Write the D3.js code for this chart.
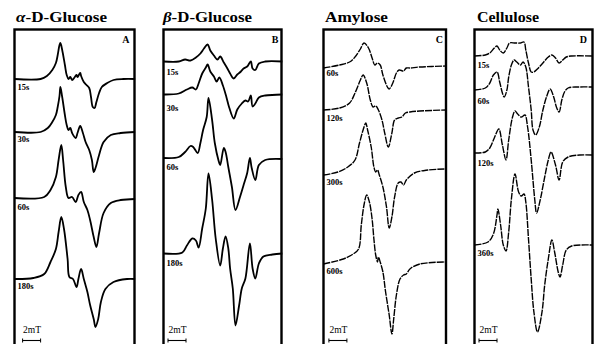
<!DOCTYPE html>
<html><head><meta charset="utf-8">
<script src="https://cdn.jsdelivr.net/npm/d3@7"></script>
<style>body{margin:0;background:#fff}svg{display:block}</style>
</head><body><svg id="c" width="595" height="344"></svg>
<script>
// ---------- DATA ----------
const titles = ["α-D-Glucose", "β-D-Glucose", "Amylose", "Cellulose"];
const panelLetters = ["A", "B", "C", "D"];
const timeLabels = [
  ["15s", "30s", "60s", "180s"],
  ["15s", "30s", "60s", "180s"],
  ["60s", "120s", "300s", "600s"],
  ["15s", "60s", "120s", "360s"]
];
// stacking offsets of each spectrum baseline (a.u.)
const offsets = [
  [266, 213, 147, 66],
  [283.5, 250.5, 187, 91.5],
  [278, 234, 173, 82],
  [289, 257, 191, 101]
];
const scaleBarLabel = "2mT";
const scaleBarMT = 2;

// spectra: [field (mT), first-derivative intensity (a.u.)]
const aGlc15 = [[0,0],[2.9,0],[3.6,3],[4.2,9],[4.6,16],[4.8,24],[5.0,34],[5.1,36],[5.3,29],[5.6,14],[5.8,4],[6.0,0],[6.2,2],[6.4,-1],[6.7,2],[6.9,4],[7.0,2],[7.3,6],[7.4,3],[7.7,-3],[8.0,-6],[8.3,-9],[8.5,-18],[8.7,-28],[8.9,-29],[9.1,-23],[9.4,-14],[9.7,-8],[10.3,-4],[11.0,-1],[12.1,0],[13.4,0]];
const aGlc30 = [[0,0],[2.9,0],[3.7,4],[4.2,10],[4.6,17],[4.8,25],[5.0,36],[5.1,45],[5.3,35],[5.6,17],[5.8,7],[6.0,2],[6.2,4],[6.4,-1],[6.8,-6],[7.0,-1],[7.3,6],[7.6,-1],[7.9,-10],[8.3,-18],[8.6,-28],[8.8,-40],[9.0,-36],[9.4,-23],[9.9,-10],[10.7,-3],[11.8,-1],[13.4,0]];
const aGlc60 = [[0,0],[3.3,1],[4.0,8],[4.6,21],[4.9,38],[5.2,53],[5.4,38],[5.7,11],[6.0,0],[6.4,1],[6.8,-4],[7.1,3],[7.4,6],[7.7,-4],[8.1,-12],[8.4,-22],[8.8,-39],[9.1,-49],[9.4,-35],[9.9,-15],[10.7,-5],[11.8,-2],[13.4,-1]];
const aGlc180 = [[0,0],[2.1,1],[3.3,5],[4.0,17],[4.6,30],[4.9,47],[5.2,62],[5.5,50],[5.9,20],[6.1,2],[6.5,0],[6.9,-8],[7.1,0],[7.4,10],[7.7,0],[8.1,-13],[8.4,-26],[8.8,-40],[9.0,-48],[9.3,-40],[9.6,-23],[10.1,-10],[11.0,-3],[12.5,0],[13.4,0]];

const bGlc15 = [[0,0],[1.7,0],[2.4,2],[3.0,1],[3.6,4],[4.1,8],[4.5,13],[4.9,17],[5.2,11],[5.6,6],[6.0,2],[6.3,5],[6.7,-1],[7.1,-7],[7.4,-12],[7.8,-17],[8.2,-13],[8.6,-10],[8.9,-7],[9.3,-5],[9.7,0],[9.9,-7],[10.2,-8.5],[10.6,-2],[11.3,0],[13.2,0]];
const bGlc30 = [[0,0],[1.7,1],[2.6,5],[3.2,7],[3.6,5],[3.9,11],[4.3,21],[4.7,27],[4.9,30],[5.2,23],[5.6,18],[5.9,13],[6.2,17],[6.6,9],[7.0,-3],[7.3,-13],[7.8,-24],[8.2,-15],[8.7,-9],[9.1,-6],[9.4,-7],[9.7,-1],[9.9,-12],[10.2,-9],[10.6,-3],[11.3,-1],[13.2,0]];
const bGlc60 = [[0,0],[1.7,1],[2.4,6],[3.0,12],[3.3,11],[3.8,5],[4.1,15],[4.4,28],[4.8,41],[5.0,60],[5.4,38],[5.7,15],[6.1,-2],[6.3,-7],[6.7,10],[6.9,6],[7.2,-9],[7.6,-29],[8.0,-52],[8.5,-39],[8.9,-27],[9.3,-15],[9.6,0],[9.8,-10],[10.2,-22],[10.6,-7],[11.3,-2],[13.2,-1]];
const bGlc180 = [[0,0],[2.1,1],[2.6,8],[3.2,15],[3.6,13],[3.9,6],[4.3,25],[4.7,45],[5.0,80],[5.4,54],[5.8,15],[6.3,-12],[6.6,5],[6.9,17],[7.2,5],[7.4,-15],[7.7,-35],[8.0,-72],[8.4,-52],[8.7,-35],[9.1,-25],[9.6,10],[9.9,-15],[10.2,-25],[10.6,-10],[11.1,-3],[12.1,-1],[13.2,0]];

const amy60 = [[0,-1],[1.8,2],[2.9,5],[3.5,10],[4.1,18],[4.5,24],[5.0,19],[5.4,9],[5.7,2],[6.0,4],[6.3,2],[6.6,-8],[7.1,-20],[7.3,-22],[7.7,-16],[8.1,-6],[8.4,-3],[8.9,-4],[9.2,-1],[9.6,-1],[10.7,0],[13.6,1]];
const amy120 = [[0,1],[1.8,3],[2.9,8],[3.5,18],[4.1,31],[4.4,36],[4.8,28],[5.2,11],[5.5,4],[5.8,5],[6.1,1],[6.5,-9],[6.8,-22],[7.2,-36],[7.6,-22],[7.9,-9],[8.3,-7],[8.7,-6],[9.1,-2],[9.6,-1],[10.7,0],[13.6,1]];
const amy300 = [[0,-3],[1.6,0],[2.7,5],[3.5,12],[4.0,29],[4.4,42],[4.7,49],[4.9,42],[5.3,25],[5.6,5],[5.8,0],[6.0,2],[6.2,-3],[6.6,-15],[7.0,-35],[7.3,-56],[7.6,-45],[7.9,-25],[8.3,-11],[8.6,-10],[8.9,-13],[9.2,-8],[10.1,-1],[11.6,2],[13.6,3]];
const amy600 = [[0,-1],[2.2,4],[3.3,9],[3.9,14],[4.2,38],[4.5,58],[4.8,68],[5.1,61],[5.4,44],[5.6,24],[5.8,8],[6.0,1],[6.1,6],[6.3,1],[6.6,-9],[6.9,-29],[7.3,-52],[7.6,-71],[7.8,-56],[8.1,-32],[8.5,-16],[8.9,-12],[9.2,-11],[9.6,-6],[10.7,-1],[13.6,1]];

const cel15 = [[0,0],[1.2,1],[1.7,3],[2.2,8],[2.5,10],[2.8,6],[3.2,3],[3.6,8],[3.9,13],[4.5,13],[5.1,13],[5.5,14],[5.7,6],[6.0,-7],[6.3,-16],[6.6,-16],[7.1,-12],[7.6,-7],[8.2,-1],[8.6,1],[9.0,-2],[9.4,-7],[9.8,-4],[10.2,-1],[10.8,0],[13.1,0]];
const cel60 = [[0,-2],[1.2,0],[1.7,5],[2.1,13],[2.5,16],[2.8,6],[3.1,-5],[3.3,-9],[3.6,-2],[3.8,11],[4.1,23],[4.4,28],[4.7,26],[5.1,23],[5.4,26],[5.7,21],[6.0,1],[6.3,-22],[6.5,-42],[6.8,-47],[7.2,-39],[7.6,-22],[8.0,-9],[8.4,-1],[8.8,-9],[9.1,-19],[9.4,-24],[9.7,-12],[10.0,-4],[10.4,0],[11.5,1],[13.1,1]];
const cel120 = [[0,1],[1.2,2],[1.7,6],[2.2,16],[2.7,25],[3.1,9],[3.5,-6],[3.8,14],[4.2,36],[4.5,43],[4.8,40],[5.2,37],[5.6,39],[5.9,27],[6.3,-6],[6.7,-46],[6.9,-59],[7.3,-46],[7.8,-23],[8.2,-6],[8.5,2],[9.0,-11],[9.4,-26],[9.8,-8],[10.4,-3],[11.7,-1],[13.1,-1]];
const cel360 = [[0,-1],[1.5,2],[2.1,10],[2.5,29],[2.6,35],[2.9,19],[3.2,-1],[3.5,-7],[3.8,12],[4.1,45],[4.5,70],[4.9,52],[5.2,48],[5.5,50],[5.7,42],[6.0,5],[6.3,-35],[6.6,-68],[7.0,-88],[7.5,-68],[7.8,-41],[8.2,-15],[8.6,4],[8.9,-8],[9.3,-28],[9.5,-33],[9.8,-21],[10.2,-6],[10.8,-2],[13.1,-1]];

const spectra = [
  [aGlc15, aGlc30, aGlc60, aGlc180],
  [bGlc15, bGlc30, bGlc60, bGlc180],
  [amy60, amy120, amy300, amy600],
  [cel15, cel60, cel120, cel360]
];

// ---------- LAYOUT ----------
const frames = [
  {l: 14.5, r: 134.5, titleX: 16, titleW: 91, letterX: 129.5, barStart: 0.9},
  {l: 163.5, r: 281.5, titleX: 163, titleW: 89, letterX: 278.5, barStart: 0.5},
  {l: 323.5, r: 446, titleX: 325, titleW: 63, letterX: 443, barStart: 0.6},
  {l: 474.5, r: 592.5, titleX: 477, titleW: 62, letterX: 587, barStart: 0.5}
];
const labelDy = [[11, 10, 12, 10], [13, 16, 12, 12], [9, 10, 13, 11], [12, 16, 12, 12]];
const lineStyle = [
  {w: 1.8, dash: null}, {w: 1.8, dash: null},
  {w: 1.4, dash: "7,1"}, {w: 1.4, dash: "7,1"}
];

const svg = d3.select("#c");
const frameTop = 29.5;
const yScale = d3.scaleLinear().domain([0, 316]).range([345, 29]);
const serif = "'Liberation Serif','Times New Roman',serif";

frames.forEach((f, i) => {
  const x = d3.scaleLinear().domain([0, (f.r - f.l) / 9]).range([f.l, f.r]);
  const g = svg.append("g");

  g.append("rect").attr("x", f.l).attr("y", frameTop)
    .attr("width", f.r - f.l).attr("height", 340)
    .attr("fill", "none").attr("stroke", "#000").attr("stroke-width", 2.4);

  const t = g.append("text").attr("x", f.titleX).attr("y", 22)
    .attr("font-family", serif).attr("font-weight", "bold").attr("font-size", 14.5)
    .attr("textLength", f.titleW).attr("lengthAdjust", "spacingAndGlyphs");
  const title = titles[i];
  if (/^[αβ]/.test(title)) {
    t.append("tspan").attr("font-style", "italic").text(title[0]);
    t.append("tspan").text(title.slice(1));
  } else {
    t.text(title);
  }

  g.append("text").attr("x", f.letterX).attr("y", 43).attr("text-anchor", "end")
    .attr("font-family", serif).attr("font-weight", "bold").attr("font-size", 10)
    .text(panelLetters[i]);

  spectra[i].forEach((s, j) => {
    const off = offsets[i][j];
    const line = d3.line().x(d => x(d[0])).y(d => yScale(off + d[1]))
      .curve(d3.curveCatmullRom.alpha(0.5));
    const p = g.append("path").attr("d", line(s)).attr("fill", "none")
      .attr("stroke", "#000").attr("stroke-width", lineStyle[i].w)
      .attr("stroke-linejoin", "round");
    if (lineStyle[i].dash) p.attr("stroke-dasharray", lineStyle[i].dash);

    g.append("text").attr("x", f.l + 3).attr("y", yScale(off) + labelDy[i][j])
      .attr("font-family", serif).attr("font-weight", "bold").attr("font-size", 8.5)
      .text(timeLabels[i][j]);
  });

  const bx0 = x(f.barStart), bx1 = x(f.barStart + scaleBarMT);
  const by = 340.5;
  g.append("line").attr("x1", bx0).attr("x2", bx1).attr("y1", by).attr("y2", by)
    .attr("stroke", "#000").attr("stroke-width", 1.1);
  [bx0, bx1].forEach(bx => g.append("line").attr("x1", bx).attr("x2", bx)
    .attr("y1", by - 2).attr("y2", by + 2).attr("stroke", "#000").attr("stroke-width", 1));
  g.append("text").attr("x", bx0 + 0.5).attr("y", 333)
    .attr("font-family", serif).attr("font-size", 9.5)
    .text(scaleBarLabel);
});
</script></body></html>
